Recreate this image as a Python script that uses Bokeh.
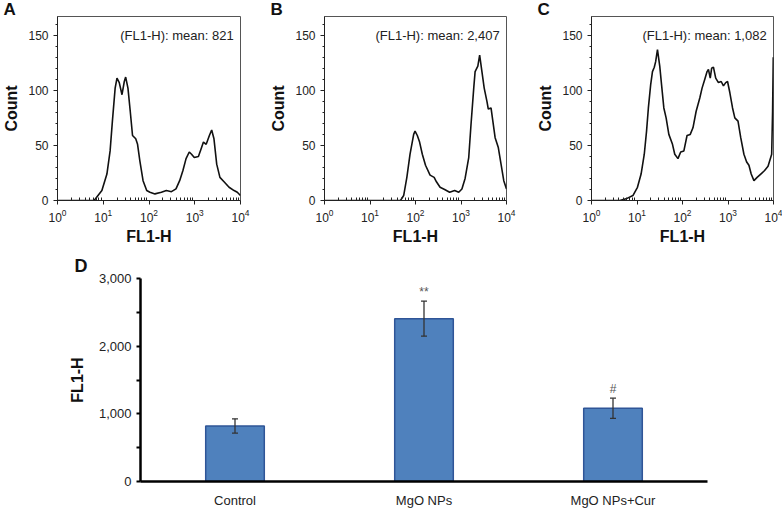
import numpy as np
from bokeh.plotting import figure
from bokeh.models import (Range1d, FixedTicker, Label, ColumnDataSource, Whisker,
                          TeeHead, FactorRange, NumeralTickFormatter)
from bokeh.layouts import column, row
from bokeh.embed import file_html
from bokeh.resources import INLINE
from bokeh.core.properties import value

FONT = "Liberation Sans"

# ---- Panel A (Control) : log10(FL1-H) positions and counts
a_log = [0, 0.79, 0.83, 0.97, 1.08, 1.15, 1.20, 1.26, 1.30, 1.35, 1.41, 1.46, 1.49, 1.54,
         1.59, 1.64, 1.71, 1.75, 1.80, 1.87, 1.95, 2.02, 2.13, 2.27, 2.38, 2.49, 2.59, 2.67,
         2.74, 2.81, 2.88, 2.93, 2.99, 3.08, 3.14, 3.19, 3.25, 3.32, 3.37, 3.42, 3.48, 3.55,
         3.64, 3.75, 3.86, 3.93, 4.0]
a_count = [0, 0, 1.5, 9, 24, 45, 72, 102, 111, 107, 96, 108, 112, 102, 81, 59, 56, 51, 36,
           18, 9, 7.5, 6, 7.5, 9, 8, 10.5, 18, 27, 38, 44, 42, 39, 40, 47, 53, 51, 59, 64,
           56, 33, 21, 17, 12, 9, 7.5, 4.5]

# ---- Panel B (MgO NPs)
b_log = [0, 1.67, 1.74, 1.81, 1.88, 1.96, 1.99, 2.04, 2.09, 2.15, 2.22, 2.32, 2.41, 2.46,
         2.54, 2.64, 2.75, 2.86, 2.95, 3.02, 3.09, 3.17, 3.22, 3.28, 3.31, 3.37, 3.41, 3.46,
         3.51, 3.57, 3.60, 3.66, 3.70, 3.75, 3.82, 3.88, 3.94, 4.0]
b_count = [0, 0, 4.5, 21, 42, 60, 63, 59, 53, 42, 32, 23, 21, 17, 12, 10, 7.5, 9, 7.5, 10.5,
           20, 39, 69, 102, 117, 122, 132, 117, 102, 90, 83, 84, 72, 57, 48, 33, 18, 10.5]

# ---- Panel C (MgO NPs+Cur)
c_log = [0, 0.62, 0.76, 0.91, 1.01, 1.09, 1.16, 1.21, 1.25, 1.30, 1.34, 1.38, 1.41, 1.45,
         1.50, 1.54, 1.59, 1.64, 1.70, 1.78, 1.83, 1.90, 1.96, 2.03, 2.10, 2.17, 2.23, 2.30,
         2.38, 2.43, 2.49, 2.54, 2.57, 2.61, 2.64, 2.68, 2.73, 2.79, 2.85, 2.90, 2.95, 2.99,
         3.04, 3.10, 3.15, 3.22, 3.28, 3.35, 3.41, 3.46, 3.51, 3.57, 3.64, 3.72, 3.80, 3.88,
         3.96, 3.98, 3.995]
c_count = [0, 0, 1.5, 4.5, 12, 24, 42, 63, 84, 105, 117, 121, 126, 137, 122, 105, 84, 75, 60,
           51, 42, 38, 44, 45, 59, 60, 66, 81, 93, 102, 110, 117, 119, 111, 120, 121, 111, 107,
           108, 104, 107, 108, 98, 84, 75, 72, 57, 42, 35, 32, 24, 18, 21, 24, 27, 31, 42, 81,
           130]

mean_texts = ["(FL1-H): mean: 821", "(FL1-H): mean: 2,407", "(FL1-H): mean: 1,082"]
x_ticks = [1, 10, 100, 1000, 10000]
y_ticks = [0, 50, 100, 150]
Y_TOP = 167

# ---- Panel D
groups = ["Control", "MgO NPs", "MgO NPs+Cur"]
means = [821, 2407, 1082]
errors = [105, 260, 150]
sig = ["", "**", "#"]
d_ticks = [0, 1000, 2000, 3000]
D_TOP = 3000

TOP_H = 250
FRAME_H = 185
TOP_B = 15


def style_letter(p, letter, left, standoff):
    p.title.text = letter
    p.title.align = "left"
    p.title.offset = -(left - 1)
    p.title.standoff = standoff
    p.title.text_font = FONT
    p.title.text_font_size = "17px"
    p.title.text_font_style = "bold"
    p.title.text_color = "#111111"
    p.title.vertical_align = "bottom"


def hist_fig(logs, counts, mean_text, letter, width, left, right):
    p = figure(width=width, height=TOP_H, x_axis_type="log",
               x_range=Range1d(1, 1e4), y_range=Range1d(0, Y_TOP),
               output_backend="svg", toolbar_location=None,
               min_border_left=left, min_border_right=right,
               min_border_top=TOP_B, min_border_bottom=TOP_H - TOP_B - FRAME_H)
    p.line(10 ** np.array(logs), counts, line_color="#111111", line_width=1.6)
    p.grid.visible = False
    p.outline_line_color = "#555555"
    p.background_fill_color = "white"

    minors = [m * 10 ** d for d in range(4) for m in range(2, 10)]
    p.xaxis.ticker = FixedTicker(ticks=x_ticks, minor_ticks=minors)
    p.xaxis.major_tick_out = 4
    p.xaxis.major_tick_in = 0
    p.xaxis.minor_tick_in = 3
    p.xaxis.minor_tick_out = 0
    p.xaxis.major_label_standoff = 4
    p.xaxis.axis_label = "FL1-H"
    p.xaxis.axis_label_standoff = 3

    p.yaxis.ticker = FixedTicker(ticks=y_ticks, minor_ticks=list(range(0, 170, 10)))
    p.yaxis.major_tick_out = 4
    p.yaxis.major_tick_in = 0
    p.yaxis.minor_tick_out = 2
    p.yaxis.minor_tick_in = 0
    p.yaxis.major_label_standoff = 5
    p.yaxis.axis_label = "Count"
    p.yaxis.axis_label_standoff = 5

    for ax in (p.xaxis, p.yaxis):
        ax.axis_line_color = "#222222"
        ax.major_tick_line_color = "#222222"
        ax.minor_tick_line_color = "#222222"
        ax.major_label_text_font = FONT
        ax.major_label_text_font_size = "12px"
        ax.major_label_text_color = "#222222"
        ax.axis_label_text_font = FONT
        ax.axis_label_text_font_size = "16px"
        ax.axis_label_text_font_style = "bold"
        ax.axis_label_text_color = "#111111"

    p.add_layout(Label(x=10 ** 3.85, y=150, text=mean_text, text_align="right",
                       text_baseline="middle", text_font=FONT, text_font_size="13px",
                       text_color="#222222"))
    style_letter(p, letter, left, -5)
    return p


pA = hist_fig(a_log, a_count, mean_texts[0], "A", 267, 55, 27)
pB = hist_fig(b_log, b_count, mean_texts[1], "B", 267, 55, 28)
pC = hist_fig(c_log, c_count, mean_texts[2], "C", 248, 55, 9)

src = ColumnDataSource(dict(
    group=groups, mean=means,
    upper=[m + e for m, e in zip(means, errors)],
    lower=[m - e for m, e in zip(means, errors)],
    sig=sig))

D_LEFT, D_RIGHT, D_TOPB, D_BOT = 140, 75, 28, 21
D_W, D_H = 782, 260

pD = figure(width=D_W, height=D_H, x_range=FactorRange(*groups), y_range=Range1d(0, D_TOP),
            output_backend="svg", toolbar_location=None,
            min_border_left=D_LEFT, min_border_right=D_RIGHT,
            min_border_top=D_TOPB, min_border_bottom=D_BOT)
pD.vbar(x="group", top="mean", width=0.31, source=src, fill_color="#4F81BD",
        line_color="#2F5597", line_width=1.5)
pD.add_layout(Whisker(base="group", upper="upper", lower="lower", source=src,
                      level="overlay", line_color="#333333", line_width=1.3,
                      upper_head=TeeHead(size=6, line_color="#333333", line_width=1.3),
                      lower_head=TeeHead(size=6, line_color="#333333", line_width=1.3)))
pD.text(x="group", y="upper", text="sig", source=src, y_offset=-2, text_align="center",
        text_baseline="bottom", text_font=value(FONT), text_font_size="12px",
        text_color="#555555")
pD.grid.visible = False
pD.outline_line_color = None

pD.xaxis.axis_line_width = 2.5
pD.xaxis.axis_line_color = "black"
pD.xaxis.major_tick_line_color = None
pD.xaxis.minor_tick_line_color = None
pD.xaxis.major_label_standoff = 5

pD.yaxis.ticker = FixedTicker(ticks=d_ticks, minor_ticks=[500, 1500, 2500])
pD.yaxis.formatter = NumeralTickFormatter(format="0,0")
pD.yaxis.axis_line_width = 2.5
pD.yaxis.axis_line_color = "black"
pD.yaxis.major_tick_out = 4
pD.yaxis.major_tick_in = 0
pD.yaxis.minor_tick_out = 4
pD.yaxis.minor_tick_in = 0
pD.yaxis.major_tick_line_width = 2
pD.yaxis.minor_tick_line_width = 2
pD.yaxis.major_label_standoff = 5
pD.yaxis.axis_label = "FL1-H"
pD.yaxis.axis_label_standoff = 10
for ax in (pD.xaxis, pD.yaxis):
    ax.major_label_text_font = FONT
    ax.major_label_text_font_size = "13px"
    ax.major_label_text_color = "#222222"
    ax.axis_label_text_font = FONT
    ax.axis_label_text_font_size = "16px"
    ax.axis_label_text_font_style = "bold"
    ax.axis_label_text_color = "#111111"

style_letter(pD, "D", 67, 5)
pD.title.text_font_size = "18px"

layout = column(row(pA, pB, pC), pD)
open("out.html", "w").write(file_html(layout, INLINE))
